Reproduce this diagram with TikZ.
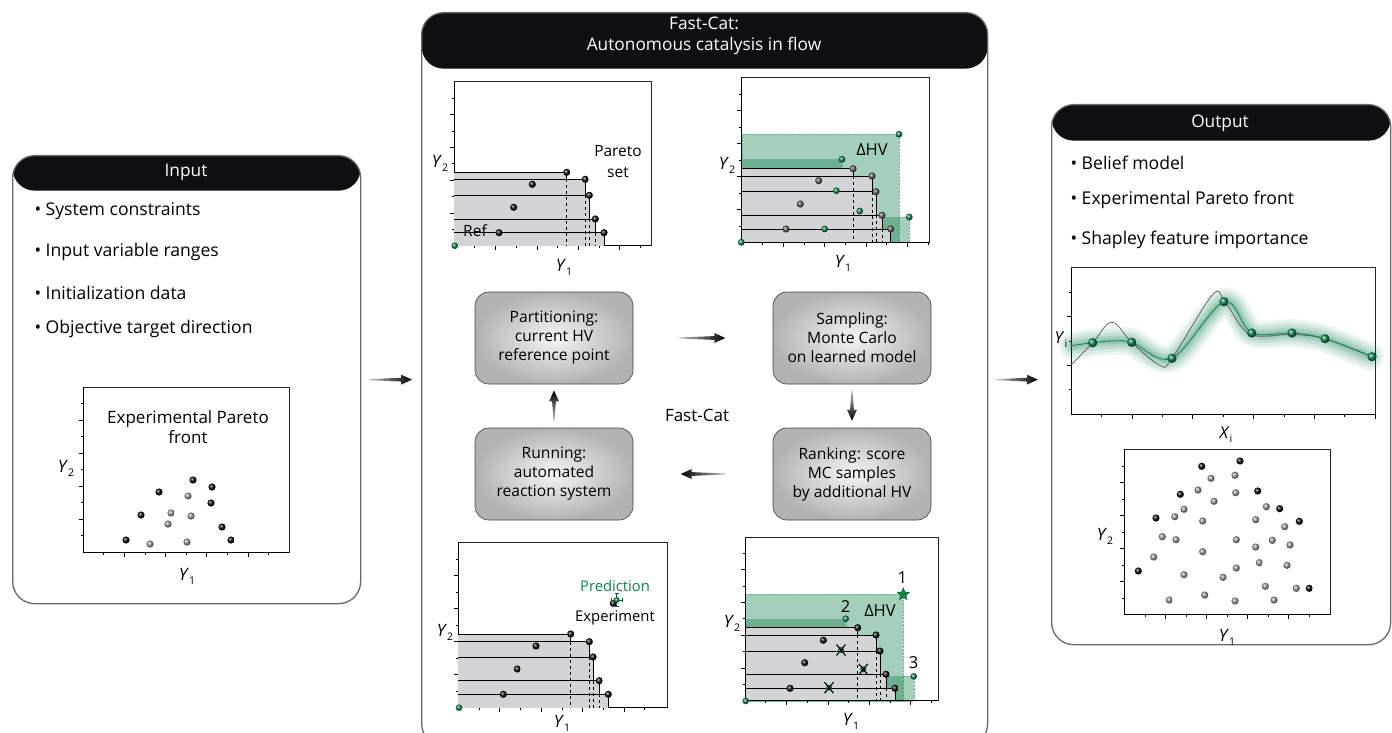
\documentclass[tikz,border=0pt]{standalone}
\usepackage{fontspec}
\setmainfont{Open Sans}
\usetikzlibrary{calc,shapes.geometric,arrows.meta}
\definecolor{hdr}{RGB}{13,15,17}
\definecolor{pgreen}{RGB}{16,130,76}
\definecolor{pgray}{RGB}{211,212,214}
\definecolor{frame}{RGB}{105,105,105}
\newcommand{\Yl}[2]{\textit{#1}\raisebox{-0.45ex}{\fontsize{10.5}{10}\selectfont #2}}
\newcommand{\yticks}[4]{\foreach \k in {1,...,#4}{\pgfmathsetmacro\ty{#2-\k*#3}\pgfmathsetmacro\tl{ifthenelse(mod(\k,2)==0,4.5,2.5)}\draw[tk] (#1,\ty) -- ++(-\tl,0);}}
\newcommand{\xticks}[4]{\foreach \k in {1,...,#4}{\pgfmathsetmacro\tx{#1+\k*#3}\pgfmathsetmacro\tl{ifthenelse(mod(\k,2)==0,4.5,2.5)}\draw[tk] (\tx,#2) -- ++(0,\tl);}}
\newcommand{\pframe}[4]{\draw[frm] (#1,#2) rectangle (#3,#4); \draw[ax] (#1,#2) -- (#1,#4) -- (#3,#4);}
\newcommand{\stair}[3]{%
  \foreach \xx/\yy in {#3} {\fill[pgray] (#1,#2) rectangle (\xx,\yy);}
  \foreach \xx/\yy [remember=\yy as \py (initially #2)] in {#3} {
    \draw[stl] (#1,\yy) -- (\xx,\yy) -- (\xx,\py);
    \draw[stl,dashed] (\xx,\py) -- (\xx,#2);
  }}
\newcommand{\tarrow}[3]{%
  \coordinate (tbase) at ($(#2)!11pt!(#1)$);
  \shade[top color=black!25, bottom color=black, shading angle=#3]
    ($(#1)!0.5pt!90:(#2)$) -- ($(tbase)!1.9pt!90:(#2)$) -- ($(tbase)!5pt!90:(#2)$) -- (#2)
    -- ($(tbase)!5pt!-90:(#2)$) -- ($(tbase)!1.9pt!-90:(#2)$) -- ($(#1)!0.5pt!-90:(#2)$) -- cycle;}
\tikzset{
 panel/.style={draw=frame, line width=1.3pt, rounded corners=22pt, fill=white},
 htext/.style={text=white, font=\fontsize{17.3}{21}\selectfont, align=center},
 bul/.style={anchor=west, font=\fontsize{17.6}{20}\selectfont},
 ptext/.style={font=\fontsize{17}{20}\selectfont, align=center, inner sep=0pt},
 stext/.style={font=\fontsize{14.8}{18}\selectfont, align=center, inner sep=0pt},
 tk/.style={line width=0.5pt},
 ax/.style={line width=0.9pt},
 frm/.style={line width=0.6pt, draw=black!85},
 stl/.style={line width=0.6pt},
 stepbox/.style={draw=black!75, line width=0.6pt, rounded corners=14pt, minimum width=158pt, minimum height=92pt, shade, inner color=black!4, outer color=black!30, align=center, font=\fontsize{15.6}{19}\selectfont},
 bk/.style={ball color=black!95},
 dg/.style={ball color=black!65},
 gy/.style={ball color=black!40},
 gr/.style={ball color=pgreen},
 gfill/.style={fill=pgreen, fill opacity=0.38, draw=pgreen!60, densely dotted, line width=0.4pt},
}
\begin{document}
\begin{tikzpicture}[x=1pt,y=-1pt]
\useasboundingbox (0,0) rectangle (1392,733);
\clip (0,0) rectangle (1392,733);
\fill[white] (0,0) rectangle (1392,733);

% ---------- panels ----------
\node[panel, minimum width=348pt, minimum height=448pt, anchor=north west, inner sep=0pt,
  path picture={\fill[hdr] (path picture bounding box.north west) rectangle ([yshift=-35pt]path picture bounding box.north east);}] (inp) at (12,155) {};
\node[panel, minimum width=566pt, minimum height=733pt, anchor=north west, inner sep=0pt,
  path picture={\fill[hdr] (path picture bounding box.north west) rectangle ([yshift=-56pt]path picture bounding box.north east);}] (fc) at (421,12) {};
\node[panel, minimum width=339pt, minimum height=540pt, anchor=north west, inner sep=0pt,
  path picture={\fill[hdr] (path picture bounding box.north west) rectangle ([yshift=-36pt]path picture bounding box.north east);}] (out) at (1051,104) {};

\node[htext] (inph) at (186,172) {Input};
\node[htext] (fch) at (704,36) {Fast-Cat:\\Autonomous catalysis in flow};
\node[htext] (outh) at (1220,123) {Output};

% ---------- input bullets ----------
\node[bul] (b1) at (31,211) {• System constraints};
\node[bul] (b2) at (31,252) {• Input variable ranges};
\node[bul] (b3) at (31,293) {• Initialization data};
\node[bul] (b4) at (31,329) {• Objective target direction};

% ---------- input plot ----------
\pframe{83}{387}{289}{552}
\yticks{83}{552}{16.5}{9}
\xticks{83}{552}{20.6}{9}
\node[ptext] (ipt) at (188,427) {Experimental Pareto\\front};
\node[ptext] (iy2) at (66,468) {\Yl{Y}{2}};
\node[ptext] (iy1) at (187,576) {\Yl{Y}{1}};
\foreach \a/\b in {126/540,141/515,159/492,193/480,212/487,211/503,222/527,231/540}
  \shade[bk] (\a,\b) circle (3.6pt);
\foreach \a/\b in {150/544,168/524,171/513,188/496,191/516,187/542}
  \shade[gy] (\a,\b) circle (3.6pt);

% ---------- center: top-left plot ----------
\pframe{454}{81.7}{651}{245.7}
\stair{454}{245.7}{604/232.7, 595.3/219, 589.3/195.3, 585.3/179.3, 566.7/172.3}
\yticks{454}{245.7}{16.4}{9}
\xticks{454}{245.7}{20.7}{9}
\foreach \a/\b in {604/232.7,595.3/219,589.3/195.3,585.3/179.3,566.7/172.3,532.3/184.3,513.7/207.3,499/232.7}
  \shade[bk] (\a,\b) circle (3.6pt);
\shade[gr] (454.7,245.7) circle (3.3pt);
\node[ptext, font=\fontsize{15.5}{19}\selectfont] (tlref) at (475,231) {Ref};
\node[ptext, font=\fontsize{15.5}{21}\selectfont] (tlpar) at (618,162) {Pareto\\set};
\node[ptext] (tly2) at (440,163) {\Yl{Y}{2}};
\node[ptext] (tly1) at (564,267) {\Yl{Y}{1}};

% ---------- center: top-right plot ----------
\pframe{741.7}{77.3}{929}{242.3}
\fill[gfill] (741.7,242.3) rectangle (899,134.3);
\fill[gfill] (741.7,242.3) rectangle (842,159.3);
\fill[gfill] (741.7,242.3) rectangle (909.3,217);
\stair{741.7}{242.3}{890.7/229, 882/215.3, 876/191.7, 872/176, 853/168.7}
\draw[ax] (741.7,77.3) -- (741.7,242.3) -- (929,242.3);
\yticks{741.7}{242.3}{16.5}{9}
\xticks{741.7}{242.3}{20.7}{9}
\foreach \a/\b in {890.7/229,882/215.3,876/191.7,872/176,853/168.7,818.7/180.7,800.3/204,786/229}
  \shade[dg] (\a,\b) circle (3.6pt);
\foreach \a/\b in {899/134.3,842/159.3,836.3/190.7,859.7/211,824.7/229,909.3/217,741.3/242.3}
  \shade[gr] (\a,\b) circle (3.4pt);
\node[ptext, font=\fontsize{16.5}{19}\selectfont] (trhv) at (872,150) {ΔHV};
\node[ptext] (try2) at (727,165) {\Yl{Y}{2}};
\node[ptext] (try1) at (843,263) {\Yl{Y}{1}};

% ---------- center: bottom-left plot ----------
\pframe{458.3}{542.3}{667}{707.7}
\stair{458.3}{707.7}{608.3/694.3, 599.3/680.7, 593/657, 589.3/641.7, 570.7/634}
\yticks{458.3}{707.7}{16.5}{9}
\xticks{458.3}{707.7}{20.7}{9}
\foreach \a/\b in {608.3/694.3,599.3/680.7,593/657,589.3/641.7,570.7/634,536/646,517.3/669,503.3/694.3}
  \shade[bk] (\a,\b) circle (3.6pt);
\shade[gr] (459,707.7) circle (3.3pt);
\shade[bk] (613.3,603.3) circle (3.6pt);
\draw[pgreen!70!black, line width=0.8pt] (611,600) -- (622.5,600) (611,598) -- (611,602) (622.5,598) -- (622.5,602)
  (616.7,593) -- (616.7,606.7) (614.7,593) -- (618.7,593) (614.7,606.7) -- (618.7,606.7);
\shade[gr] (616.7,600) circle (3pt);
\node[stext, text=pgreen] (blpred) at (615,586) {Prediction};
\node[stext] (blexp) at (615,618) {Experiment};
\node[ptext] (bly2) at (445,632) {\Yl{Y}{2}};
\node[ptext] (bly1) at (562,723) {\Yl{Y}{1}};

% ---------- center: bottom-right plot ----------
\pframe{745}{537}{938}{700.7}
\fill[gfill] (745,700.7) rectangle (903.3,594.3);
\fill[gfill] (745,700.7) rectangle (845.7,618.7);
\fill[gfill] (745,700.7) rectangle (913.7,676.3);
\stair{745}{700.7}{895/688.3, 886/674.3, 880/651, 876/635, 857.7/627.7}
\draw[ax] (745,537) -- (745,700.7) -- (938,700.7);
\yticks{745}{700.7}{16.4}{9}
\xticks{745}{700.7}{20.7}{9}
\foreach \a/\b in {895/688.3,886/674.3,880/651,876/635,857.7/627.7,823.3/640.3,804.7/662.7,790/688.3}
  \shade[bk] (\a,\b) circle (3.6pt);
\foreach \a/\b in {841/650,863.3/669.3,829/687.7}{
  \shade[gr] (\a,\b) circle (3pt);
  \draw[black, line width=1.1pt] (\a-4.5,\b-5.5) -- (\a+4.5,\b+5.5) (\a-4.5,\b+5.5) -- (\a+4.5,\b-5.5);}
\foreach \a/\b in {845.7/618.7,913.7/676.3,745.7/701}
  \shade[gr] (\a,\b) circle (3.3pt);
\node[star, star points=5, star point ratio=2.2, fill=pgreen, draw=pgreen!70!black, line width=0.4pt, minimum size=13pt, inner sep=0pt] (brstar) at (903.3,594.3) {};
\node[ptext, font=\fontsize{16.5}{19}\selectfont] (brn1) at (902.3,578) {1};
\node[ptext, font=\fontsize{16.5}{19}\selectfont] (brn2) at (845.7,607) {2};
\node[ptext, font=\fontsize{16.5}{19}\selectfont] (brn3) at (913.7,663) {3};
\node[ptext, font=\fontsize{16.5}{19}\selectfont] (brhv) at (880,611) {ΔHV};
\node[ptext] (bry2) at (732,623) {\Yl{Y}{2}};
\node[ptext] (bry1) at (851,721) {\Yl{Y}{1}};

% ---------- center cycle ----------
\node[stepbox] (p1) at (554,338) {Partitioning:\\current HV\\reference point};
\node[stepbox] (p2) at (852,338) {Sampling:\\Monte Carlo\\on learned model};
\node[stepbox] (p3) at (852,474) {Ranking: score\\MC samples\\by additional HV};
\node[stepbox] (p4) at (554,474) {Running:\\automated\\reaction system};
\node[ptext] (fcl) at (697,415) {Fast-Cat};
\coordinate (a1s) at ($(p1.east)!0.33!(p2.west)$);
\coordinate (a1e) at ($(p1.east)!0.66!(p2.west)$);
\coordinate (a2s) at ($(p2.south)!0.14!(p3.north)$);
\coordinate (a2e) at ($(p2.south)!0.84!(p3.north)$);
\coordinate (a3s) at ($(p3.west)!0.34!(p4.east)$);
\coordinate (a3e) at ($(p3.west)!0.66!(p4.east)$);
\coordinate (a4s) at ($(p4.north)!0.16!(p1.south)$);
\coordinate (a4e) at ($(p4.north)!0.86!(p1.south)$);
\tarrow{a1s}{a1e}{90}
\tarrow{a2s}{a2e}{0}
\tarrow{a3s}{a3e}{-90}
\tarrow{a4s}{a4e}{180}

% ---------- panel arrows ----------
\coordinate (pa1s) at ($(inp.east)!0.13!(inp.east -| fc.west)$);
\coordinate (pa1e) at ($(inp.east)!0.85!(inp.east -| fc.west)$);
\coordinate (pa2s) at ($(inp.east -| fc.east)!0.13!(inp.east -| out.west)$);
\coordinate (pa2e) at ($(inp.east -| fc.east)!0.79!(inp.east -| out.west)$);
\tarrow{pa1s}{pa1e}{90}
\tarrow{pa2s}{pa2e}{90}

% ---------- output bullets ----------
\node[bul] (o1) at (1067,163) {• Belief model};
\node[bul] (o2) at (1067,200) {• Experimental Pareto front};
\node[bul] (o3) at (1067,240) {• Shapley feature importance};

% ---------- output plot 1 ----------
\pframe{1071}{267.7}{1375}{414}
\yticks{1071}{414}{24.4}{5}
\xticks{1071}{414}{30.4}{10}
\foreach \w/\o in {28/0.07,22/0.09,16/0.11,10/0.13,5/0.15}
  \draw[pgreen, line width=\w pt, opacity=\o, line cap=round, line join=round] plot[smooth, tension=0.55] coordinates {(1073,345.7) (1092.7,342.7) (1112,341) (1131.7,342.3) (1172,358.3) (1224,301.7) (1251.7,333) (1292,333) (1325,338.7) (1370,356.7)};
\draw[black!65, line width=0.7pt] plot[smooth, tension=0.6] coordinates {(1071,365) (1092.7,342.7) (1111.7,322.3) (1131.7,342.3) (1160,365.5) (1172,358.3) (1212.3,295) (1224,300.5) (1240,325) (1251.7,335) (1270,336) (1292,334.5) (1325,338.7) (1372,356.7)};
\draw[pgreen, line width=0.8pt] plot[smooth, tension=0.55] coordinates {(1071,345.7) (1092.7,342.7) (1112,341) (1131.7,342.3) (1172,358.3) (1224,301.7) (1251.7,333) (1292,333) (1325,338.7) (1372,356.7)};
\foreach \a/\b in {1092.7/342.7,1131.7/342.3,1172/358.3,1224/301.7,1251.7/333,1292/333,1325/338.7,1372/356.7}
  \shade[gr] (\a,\b) circle (4.6pt);
\node[ptext, font=\fontsize{16.5}{19}\selectfont] (o1y) at (1061,340) {\Yl{Y}{i}};
\node[ptext, font=\fontsize{16.5}{19}\selectfont] (o1x) at (1226,435) {\Yl{X}{i}};

% ---------- output plot 2 ----------
\pframe{1124.3}{449}{1330}{614.3}
\yticks{1124.3}{614.3}{16.5}{9}
\xticks{1124.3}{614.3}{20.5}{9}
\foreach \a/\b in {1201.7/466.3,1240/461,1180.3/494.3,1257.7/491,1156/518,1279.7/508.7,1299.3/521.3,1138.3/571,1309.3/588.3}
  \shade[bk] (\a,\b) circle (3.6pt);
\foreach \a/\b in {1211/478.3,1235/475.3,1198/490,1235.7/492.7,1214/501.3,1184/509.3,1174.7/516.7,1266.3/506.7,1202.7/521,1255.7/519.7,1284.7/526.7,1162.3/536.7,1176/539.7,1236.3/539.7,1272.3/540.3,1255.7/547,1290/545,1153.7/557,1202.7/551.7,1259.3/562.7,1287/565.3,1236.3/568,1184/574.7,1223/577.3,1265.3/586.3,1296.3/588.3,1169.3/600,1204.7/595,1235/601,1274/600}
  \shade[gy] (\a,\b) circle (3.6pt);
\node[ptext] (o2y) at (1105,536) {\Yl{Y}{2}};
\node[ptext] (o2x) at (1227,637) {\Yl{Y}{1}};
\end{tikzpicture}
\end{document}
